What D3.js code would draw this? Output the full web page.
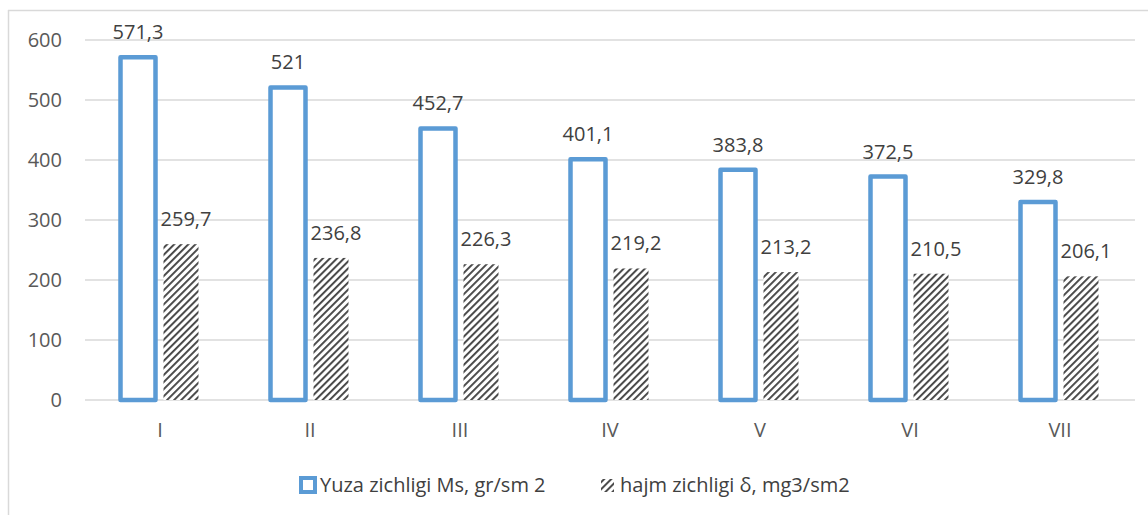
<!DOCTYPE html>
<html>
<head>
<meta charset="utf-8">
<script src="https://cdn.jsdelivr.net/npm/d3@7"></script>
<style>
  body { margin: 0; background: #fff; }
  text { font-family: "Open Sans", "Liberation Sans", sans-serif; fill: #404040; }
</style>
</head>
<body>
<div id="chart"></div>
<script>
// Data
const categories = ["I", "II", "III", "IV", "V", "VI", "VII"];
const surfaceDensity = [571.3, 521, 452.7, 401.1, 383.8, 372.5, 329.8];
const volumeDensity = [259.7, 236.8, 226.3, 219.2, 213.2, 210.5, 206.1];
const yTicks = [0, 100, 200, 300, 400, 500, 600];
const seriesNames = ["Yuza zichligi Ms, gr/sm 2", "hajm zichligi δ, mg3/sm2"];

const W = 1148, H = 515;
const margin = { left: 85, right: 13, top: 40, bottom: 115 };

const svg = d3.select("#chart").append("svg")
  .attr("width", W).attr("height", H);

// Hatch pattern (wide upward diagonal)
const defs = svg.append("defs");
const pat = defs.append("pattern")
  .attr("id", "hatch")
  .attr("patternUnits", "userSpaceOnUse")
  .attr("width", 5).attr("height", 5)
  .attr("patternTransform", "rotate(45)");
pat.append("rect").attr("width", 5).attr("height", 5).attr("fill", "#fff");
pat.append("rect").attr("x", 0).attr("y", 0).attr("width", 1.9).attr("height", 5).attr("fill", "#444");

// Chart frame (left and top edges only visible)
svg.append("line").attr("x1", 8.5).attr("x2", 8.5).attr("y1", 10).attr("y2", H)
  .attr("stroke", "#d9d9d9").attr("stroke-width", 1.5);
svg.append("line").attr("x1", 8).attr("x2", W).attr("y1", 10.5).attr("y2", 10.5)
  .attr("stroke", "#d9d9d9").attr("stroke-width", 1.5);

const x = d3.scaleBand()
  .domain(categories)
  .range([margin.left, W - margin.right]);

const y = d3.scaleLinear()
  .domain([0, 600])
  .range([400, margin.top]);

// Gridlines
svg.append("g").selectAll("line").data(yTicks).join("line")
  .attr("x1", margin.left).attr("x2", W - margin.right)
  .attr("y1", d => y(d)).attr("y2", d => y(d))
  .attr("stroke", "#d9d9d9").attr("stroke-width", 1.5);

// Y axis labels
svg.append("g").selectAll("text").data(yTicks).join("text")
  .attr("x", 62).attr("y", d => y(d))
  .attr("dy", "0.35em")
  .attr("text-anchor", "end")
  .attr("font-size", 20)
  .style("fill", "#595959")
  .text(d => d);

// X axis labels
svg.append("g").selectAll("text").data(categories).join("text")
  .attr("x", d => x(d) + x.bandwidth() / 2)
  .attr("y", 430).attr("dy", "0.35em")
  .attr("text-anchor", "middle")
  .attr("font-size", 20)
  .style("fill", "#595959")
  .text(d => d);

const barW = 35, gap = 8;
const offs = [-(barW + gap) / 2 - 0.5, (barW + gap) / 2 - 0.5];

// Blue outlined bars
const g1 = svg.append("g");
g1.selectAll("rect").data(surfaceDensity).join("rect")
  .attr("x", (d, i) => x(categories[i]) + x.bandwidth() / 2 + offs[0] - barW / 2)
  .attr("y", d => y(d))
  .attr("width", barW)
  .attr("height", d => y(0) - y(d))
  .attr("fill", "#fff")
  .attr("stroke", "#5b9bd5")
  .attr("stroke-width", 4.5)
  .attr("stroke-linejoin", "round");

// Hatched bars
const g2 = svg.append("g");
g2.selectAll("rect").data(volumeDensity).join("rect")
  .attr("x", (d, i) => x(categories[i]) + x.bandwidth() / 2 + offs[1] - barW / 2)
  .attr("y", d => y(d))
  .attr("width", barW)
  .attr("height", d => y(0) - y(d))
  .attr("fill", "url(#hatch)");

const fmt = d => String(d).replace(".", ",");

// Value labels
svg.append("g").selectAll("text").data(surfaceDensity).join("text")
  .attr("x", (d, i) => x(categories[i]) + x.bandwidth() / 2 + offs[0])
  .attr("y", d => y(d) - 25)
  .attr("dy", "0.35em")
  .attr("text-anchor", "middle")
  .attr("font-size", 20)
  .text(fmt);

svg.append("g").selectAll("text").data(volumeDensity).join("text")
  .attr("x", (d, i) => x(categories[i]) + x.bandwidth() / 2 + offs[1] + 5)
  .attr("y", d => y(d) - 25)
  .attr("dy", "0.35em")
  .attr("text-anchor", "middle")
  .attr("font-size", 20)
  .text(fmt);

// Legend
const leg = svg.append("g");
leg.append("rect").attr("x", 301).attr("y", 478).attr("width", 14).attr("height", 14)
  .attr("fill", "#fff").attr("stroke", "#5b9bd5").attr("stroke-width", 4);
leg.append("text").attr("x", 320).attr("y", 485).attr("dy", "0.35em")
  .attr("font-size", 20).text(seriesNames[0]);
leg.append("rect").attr("x", 601).attr("y", 479).attr("width", 13).attr("height", 13)
  .attr("fill", "url(#hatch)");
leg.append("text").attr("x", 620).attr("y", 485).attr("dy", "0.35em")
  .attr("font-size", 20).text(seriesNames[1]);
</script>
</body>
</html>
